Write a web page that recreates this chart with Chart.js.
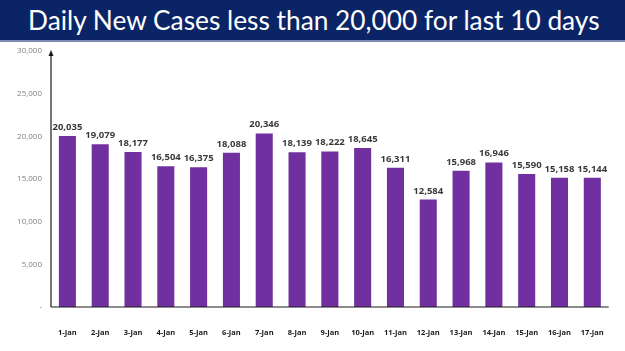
<!DOCTYPE html>
<html>
<head>
<meta charset="utf-8">
<script src="https://cdn.jsdelivr.net/npm/chart.js@4"></script>
<style>
  html, body { margin: 0; padding: 0; background: #ffffff; }
  #wrap { position: relative; width: 625px; height: 351px; overflow: hidden; }
  #header {
    position: absolute; left: 0; top: 0; width: 625px; height: 40px;
    background: #0b2466; border-bottom: 2px solid #7d8bb3;
  }
  #title {
    position: absolute; left: 28px; top: 0; white-space: nowrap;
    color: #ffffff; font-family: Lato, "Open Sans", sans-serif; font-size: 26px;
    line-height: 40px; transform-origin: 0 50%;
  }
  canvas { position: absolute; left: 0; top: 0; }
</style>
</head>
<body>
<div id="wrap">
  <canvas id="casesChart" width="625" height="351"></canvas>
  <div id="header"><span id="title">Daily New Cases less than 20,000 for last 10 days</span></div>
</div>
<script>
/* ---------- data ---------- */
const days = ["1-Jan", "2-Jan", "3-Jan", "4-Jan", "5-Jan", "6-Jan", "7-Jan", "8-Jan", "9-Jan",
              "10-Jan", "11-Jan", "12-Jan", "13-Jan", "14-Jan", "15-Jan", "16-Jan", "17-Jan"];
const newCases = [20035, 19079, 18177, 16504, 16375, 18088, 20346, 18139, 18222,
                  18645, 16311, 12584, 15968, 16946, 15590, 15158, 15144];
const yTicks = [0, 5000, 10000, 15000, 20000, 25000, 30000];

const fmt = v => v.toLocaleString("en-US");

/* fit the title into the same span as the reference (x 28..600) */
const title = document.getElementById("title");
title.style.transform = "scaleX(" + (572 / title.offsetWidth) + ")";

/* value labels above each bar */
const barLabels = {
  id: "barLabels",
  afterDatasetsDraw(chart) {
    const ctx = chart.ctx;
    const meta = chart.getDatasetMeta(0);
    ctx.save();
    ctx.font = "bold 9.5px 'Open Sans', sans-serif";
    ctx.fillStyle = "#3a3a3a";
    ctx.textAlign = "center";
    ctx.textBaseline = "bottom";
    meta.data.forEach((bar, i) => {
      ctx.fillText(fmt(newCases[i]), bar.x, bar.y - 4);
    });
    ctx.restore();
  }
};

/* axis lines, with arrow head on the y axis */
const axisLines = {
  id: "axisLines",
  afterDraw(chart) {
    const { ctx, chartArea: a } = chart;
    ctx.save();
    ctx.strokeStyle = "#1a1a1a";
    ctx.lineWidth = 1.2;
    ctx.beginPath();
    ctx.moveTo(a.left, a.bottom);
    ctx.lineTo(a.left, a.top + 2);
    ctx.moveTo(a.left, a.bottom);
    ctx.lineTo(a.right, a.bottom);
    ctx.stroke();
    ctx.fillStyle = "#1a1a1a";
    ctx.beginPath();
    ctx.moveTo(a.left, a.top - 1);
    ctx.lineTo(a.left - 2.5, a.top + 5);
    ctx.lineTo(a.left + 2.5, a.top + 5);
    ctx.closePath();
    ctx.fill();
    ctx.restore();
  }
};

new Chart(document.getElementById("casesChart"), {
  type: "bar",
  data: {
    labels: days,
    datasets: [{
      data: newCases,
      backgroundColor: "#7030a0",
      barPercentage: 0.52,
      categoryPercentage: 1.0
    }]
  },
  options: {
    responsive: false,
    animation: false,
    layout: { padding: { top: 51, right: 8, bottom: 0, left: 0 } },
    plugins: { legend: { display: false }, tooltip: { enabled: false } },
    scales: {
      x: {
        grid: { display: false, drawTicks: false },
        border: { display: false },
        ticks: {
          color: "#1a1a1a",
          font: { family: "'Open Sans', sans-serif", size: 7.5, weight: "bold" },
          padding: 21,
          maxRotation: 0,
          autoSkip: false
        },
        afterFit: s => { s.height = 44; }
      },
      y: {
        min: 0,
        max: 30000,
        grid: { display: false, drawTicks: false },
        border: { display: false },
        afterBuildTicks: s => { s.ticks = yTicks.map(v => ({ value: v })); },
        ticks: {
          color: "#7f7f7f",
          font: { family: "'Open Sans', sans-serif", size: 8 },
          padding: 9,
          callback: v => (v === 0 ? "-" : fmt(v))
        },
        afterFit: s => { s.width = 51; }
      }
    }
  },
  plugins: [barLabels, axisLines]
});
</script>
</body>
</html>
